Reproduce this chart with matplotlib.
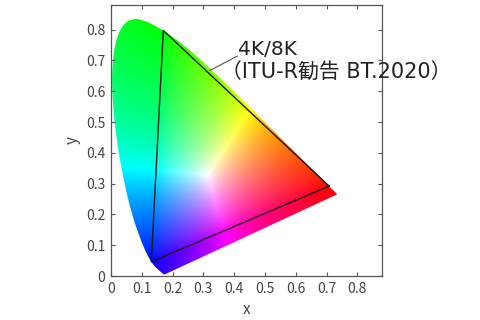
import numpy as np
import matplotlib as mpl
mpl.use('Agg')
import matplotlib.pyplot as plt
from matplotlib.path import Path
from matplotlib.patches import PathPatch

plt.rcParams['font.family'] = ['Noto Sans CJK JP', 'DejaVu Sans']

# CIE 1931 spectral locus (380-700 nm)
locus_x = [0.1741, 0.1740, 0.1738, 0.1736, 0.1733, 0.1730, 0.1726, 0.1721, 0.1714, 0.1703,
           0.1689, 0.1669, 0.1644, 0.1611, 0.1566, 0.1510, 0.1440, 0.1355, 0.1241, 0.1096,
           0.0913, 0.0687, 0.0454, 0.0235, 0.0082, 0.0039, 0.0139, 0.0389, 0.0743, 0.1142,
           0.1547, 0.1929, 0.2296, 0.2658, 0.3016, 0.3373, 0.3731, 0.4087, 0.4441, 0.4788,
           0.5125, 0.5448, 0.5752, 0.6029, 0.6270, 0.6482, 0.6658, 0.6801, 0.6915, 0.7006,
           0.7079, 0.7140, 0.7190, 0.7230, 0.7260, 0.7283, 0.7300, 0.7311, 0.7320, 0.7334,
           0.7344, 0.7347]
locus_y = [0.0050, 0.0050, 0.0049, 0.0049, 0.0048, 0.0048, 0.0048, 0.0048, 0.0051, 0.0058,
           0.0069, 0.0086, 0.0109, 0.0138, 0.0177, 0.0227, 0.0297, 0.0399, 0.0578, 0.0868,
           0.1327, 0.2007, 0.2950, 0.4127, 0.5384, 0.6548, 0.7502, 0.8120, 0.8338, 0.8262,
           0.8059, 0.7816, 0.7543, 0.7243, 0.6923, 0.6589, 0.6245, 0.5896, 0.5547, 0.5202,
           0.4866, 0.4544, 0.4242, 0.3965, 0.3725, 0.3514, 0.3340, 0.3197, 0.3083, 0.2993,
           0.2920, 0.2859, 0.2809, 0.2770, 0.2740, 0.2717, 0.2700, 0.2689, 0.2680, 0.2666,
           0.2656, 0.2653]

# BT.2020 primaries R, G, B
bt2020_x = [0.708, 0.170, 0.131]
bt2020_y = [0.292, 0.797, 0.046]

label_1 = '4K/8K'
label_2 = '（ITU-R勧告 BT.2020）'


def smooth(px, py, k=8):
    # Catmull-Rom through the locus points, just for a rounder outline
    p = np.column_stack([px, py])
    p = np.vstack([p[0], p, p[-1]])
    out = []
    for i in range(1, len(p) - 2):
        p0, p1, p2, p3 = p[i - 1], p[i], p[i + 1], p[i + 2]
        for t in np.linspace(0, 1, k, endpoint=False):
            out.append(0.5 * ((2 * p1) + (-p0 + p2) * t + (2 * p0 - 5 * p1 + 4 * p2 - p3) * t ** 2
                              + (-p0 + 3 * p1 - 3 * p2 + p3) * t ** 3))
    out.append(p[-2])
    return np.array(out)


# colour fill: xy -> XYZ -> linear BT.2020 RGB, shown as if it were sRGB
n = 500
gx, gy = np.meshgrid(np.linspace(0, 0.8, n), np.linspace(0.001, 0.9, n))
X = gx / gy
Z = (1 - gx - gy) / gy
Y = np.ones_like(gx)
M = np.array([[1.7167, -0.3557, -0.2534],
              [-0.6667, 1.6165, 0.0158],
              [0.0176, -0.0428, 0.9421]])
rgb = np.einsum('ij,jkl->kli', M, np.stack([X, Y, Z]))
rgb = np.clip(rgb, 0, None)
rgb = rgb / np.maximum(rgb.max(axis=2, keepdims=True), 1e-9)
rgb = np.clip(rgb, 0, 1) ** (1 / 1.3)

fig = plt.figure(figsize=(4.8, 3.2), dpi=100)
ax = fig.add_axes([0.231, 0.1375, 0.565, 0.847])

im = ax.imshow(rgb, origin='lower', extent=(0, 0.8, 0.001, 0.9), interpolation='bilinear', zorder=1)
outline = smooth(locus_x, locus_y)
verts = np.vstack([outline, outline[:1]])
clip = PathPatch(Path(verts), facecolor='none', edgecolor='none', transform=ax.transData)
ax.add_patch(clip)
im.set_clip_path(clip)

tx = bt2020_x + [bt2020_x[0]]
ty = bt2020_y + [bt2020_y[0]]
ax.plot(tx, ty, color='#1a1a1a', lw=1.0, zorder=3)

ax.plot([0.321, 0.41], [0.667, 0.714], color='#555555', lw=0.8, zorder=3)
ax.text(0.413, 0.717, label_1, fontsize=14.5, color='#222222', va='baseline', ha='left',
        family=['DejaVu Sans', 'Noto Sans CJK JP'], clip_on=False, zorder=4)
ax.text(0.357, 0.643, label_2, fontsize=15, color='#222222', va='baseline', ha='left',
        family=['DejaVu Sans', 'Noto Sans CJK JP'], clip_on=False, zorder=4)

ax.set_xlim(0, 0.88)
ax.set_ylim(0, 0.88)
ticks = np.arange(0, 0.81, 0.1)
ticklabels = ['0'] + ['%.1f' % t for t in ticks[1:]]
ax.set_xticks(ticks)
ax.set_xticklabels(ticklabels)
ax.set_yticks(ticks)
ax.set_yticklabels(ticklabels)
ax.tick_params(direction='in', top=True, right=True, length=3, width=0.8,
               color='#555555', labelcolor='#444444', labelsize=10, pad=4)
for s in ax.spines.values():
    s.set_color('#555555')
    s.set_linewidth(0.9)
ax.set_xlabel('x', fontsize=11, color='#444444', style='italic', labelpad=4)
ax.set_ylabel('y', fontsize=11, color='#444444', style='italic', labelpad=4)

fig.savefig('out.png', dpi=100)
